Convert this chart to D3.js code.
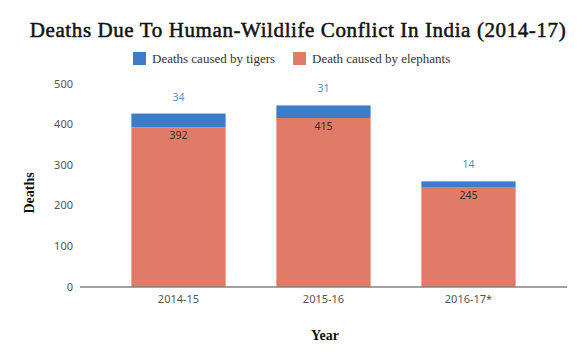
<!DOCTYPE html>
<html>
<head>
<meta charset="utf-8">
<script src="https://cdn.jsdelivr.net/npm/d3@7"></script>
<style>
  body { margin: 0; background: #fff; }
  svg { display: block; }
</style>
</head>
<body>
<div id="chart-mount"></div>
<script>
var WIDTH = 585;
var HEIGHT = 362;

var YEARS = ['2014-15', '2015-16', '2016-17*'];
var ELEPHANT_DEATHS = [392, 415, 245];
var TIGER_DEATHS = [34, 31, 14];
var SERIES_NAMES = ['Deaths caused by tigers', 'Death caused by elephants'];
var Y_TICKS = [0, 100, 200, 300, 400, 500];

var BLUE = '#3b7dc8';
var ORANGE = '#e07b67';
var SERIF = '"Liberation Serif", "DejaVu Serif", serif';
var SANS = '"Noto Sans", "Open Sans", sans-serif';

var $svg = d3.select('#chart-mount').append('svg')
  .attr('width', WIDTH)
  .attr('height', HEIGHT);

var x = d3.scaleBand()
  .domain(YEARS)
  .range([106, 541])
  .paddingInner(0.35)
  .paddingOuter(0.175);

var y = d3.scaleLinear()
  .domain([0, 500])
  .range([286.5, 83.5]);

var rows = YEARS.map(function (year, i) {
  return { year: year, elephants: ELEPHANT_DEATHS[i], tigers: TIGER_DEATHS[i] };
});

// title
$svg.append('text')
  .attr('x', 298)
  .attr('y', 37)
  .attr('text-anchor', 'middle')
  .attr('font-family', SERIF)
  .attr('font-size', 21)
  .attr('letter-spacing', 0.6)
  .attr('fill', '#111')
  .attr('stroke', '#111')
  .attr('stroke-width', 0.5)
  .text('Deaths Due To Human-Wildlife Conflict In India (2014-17)');

// legend
var legend = $svg.append('g');
var legendItems = [
  { name: SERIES_NAMES[0], color: BLUE, x: 133 },
  { name: SERIES_NAMES[1], color: ORANGE, x: 293 }
];
legend.selectAll('rect')
  .data(legendItems)
  .enter()
    .append('rect')
    .attr('x', function (d) { return d.x; })
    .attr('y', 52)
    .attr('width', 13)
    .attr('height', 13)
    .attr('fill', function (d) { return d.color; });
legend.selectAll('text')
  .data(legendItems)
  .enter()
    .append('text')
    .attr('x', function (d) { return d.x + 19; })
    .attr('y', 62.5)
    .attr('font-family', SERIF)
    .attr('font-size', 13)
    .attr('fill', '#333')
    .text(function (d) { return d.name; });

// y axis labels (no line, no ticks)
var yAxis = $svg.append('g')
  .attr('transform', 'translate(73, 0)')
  .call(d3.axisLeft(y).tickValues(Y_TICKS).tickSize(0).tickPadding(0));
yAxis.select('.domain').remove();
yAxis.selectAll('text')
  .attr('font-family', SANS)
  .attr('font-size', 11)
  .attr('fill', '#555');

// bars
var bars = $svg.append('g');
bars.selectAll('rect.elephants')
  .data(rows)
  .enter()
    .append('rect')
    .attr('class', 'elephants')
    .attr('x', function (d) { return x(d.year); })
    .attr('width', x.bandwidth())
    .attr('y', function (d) { return y(d.elephants); })
    .attr('height', function (d) { return y(0) - y(d.elephants); })
    .attr('fill', ORANGE);
bars.selectAll('rect.tigers')
  .data(rows)
  .enter()
    .append('rect')
    .attr('class', 'tigers')
    .attr('x', function (d) { return x(d.year); })
    .attr('width', x.bandwidth())
    .attr('y', function (d) { return y(d.elephants + d.tigers); })
    .attr('height', function (d) { return y(d.elephants) - y(d.elephants + d.tigers); })
    .attr('fill', BLUE);

// value labels
bars.selectAll('text.elephants')
  .data(rows)
  .enter()
    .append('text')
    .attr('class', 'elephants')
    .attr('x', function (d) { return x(d.year) + x.bandwidth() / 2; })
    .attr('y', function (d) { return y(d.elephants) + 12; })
    .attr('text-anchor', 'middle')
    .attr('font-family', SANS)
    .attr('font-size', 10.5)
    .attr('fill', '#3a2a26')
    .text(function (d) { return d.elephants; });
bars.selectAll('text.tigers')
  .data(rows)
  .enter()
    .append('text')
    .attr('class', 'tigers')
    .attr('x', function (d) { return x(d.year) + x.bandwidth() / 2; })
    .attr('y', function (d) { return y(d.elephants + d.tigers) - 13; })
    .attr('text-anchor', 'middle')
    .attr('font-family', SANS)
    .attr('font-size', 10.5)
    .attr('fill', '#5b8bbd')
    .text(function (d) { return d.tigers; });

// x axis
var xAxis = $svg.append('g')
  .attr('transform', 'translate(0,' + y(0) + ')')
  .call(d3.axisBottom(x).tickSize(0).tickPadding(9));
xAxis.select('.domain')
  .attr('d', 'M80,0.5H567')
  .attr('stroke', '#444');
xAxis.selectAll('text')
  .attr('font-family', SANS)
  .attr('font-size', 11)
  .attr('fill', '#555');

// axis titles
$svg.append('text')
  .attr('x', 325)
  .attr('y', 340)
  .attr('text-anchor', 'middle')
  .attr('font-family', SERIF)
  .attr('font-weight', 'bold')
  .attr('font-size', 14)
  .attr('fill', '#111')
  .text('Year');

$svg.append('text')
  .attr('transform', 'translate(34, 193) rotate(-90)')
  .attr('text-anchor', 'middle')
  .attr('font-family', SERIF)
  .attr('font-weight', 'bold')
  .attr('font-size', 14)
  .attr('fill', '#111')
  .text('Deaths');
</script>
</body>
</html>
